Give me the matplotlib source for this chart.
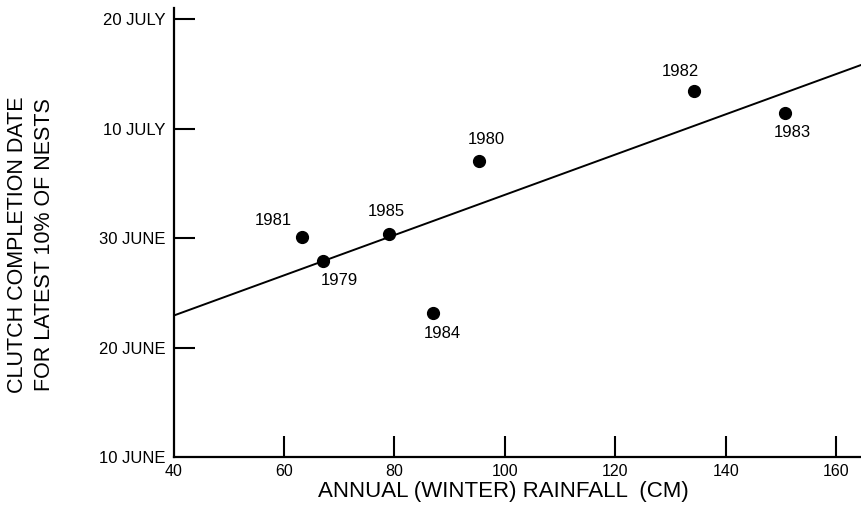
import matplotlib
matplotlib.use("Agg")
import matplotlib.pyplot as plt

plt.rcParams['font.family'] = ['Liberation Sans', 'DejaVu Sans']

# rainfall (cm) and clutch date (days after 31 May)
years = ['1981', '1979', '1985', '1984', '1980', '1982', '1983']
rainfall = [63.3, 67.0, 79.0, 86.9, 95.3, 134.3, 150.7]
clutch_day = [30.15, 27.93, 30.39, 23.16, 37.08, 43.44, 41.40]

# regression line end points
fit_x = [40.0, 164.5]
fit_y = [22.94, 45.8]

xticks = [40, 60, 80, 100, 120, 140, 160]
yticks = [10, 20, 30, 40, 50]
ytick_labels = ['10 JUNE', '20 JUNE', '30 JUNE', '10 JULY', '20 JULY']

# label offsets in pixels (dx, dy) for each year
label_offsets = {
    '1981': (-29, 16), '1979': (17, -20), '1985': (-3, 22),
    '1984': (10, -20), '1980': (7, 21), '1982': (-14, 19),
    '1983': (7, -19),
}

fig = plt.figure(figsize=(8.62, 5.14), dpi=100)
ax = fig.add_axes([0.2014, 0.110, 0.7975, 0.8745])

ax.plot(fit_x, fit_y, color='black', lw=1.4, zorder=2)
ax.plot(rainfall, clutch_day, 'o', color='black', ms=8.5, zorder=3)

for yr, x, y in zip(years, rainfall, clutch_day):
    dx, dy = label_offsets[yr]
    ax.annotate(yr, (x, y), xytext=(dx, dy), textcoords='offset pixels',
                ha='center', va='center', fontsize=12)

ax.set_xlim(40, 164.5)
ax.set_ylim(10, 51)
ax.set_xticks(xticks)
ax.set_yticks(yticks)
ax.set_yticklabels(ytick_labels)
ax.tick_params(axis='both', direction='in', length=15, width=1.5,
               colors='black')
ax.tick_params(axis='y', pad=6, labelsize=12)
ax.tick_params(axis='x', pad=5, labelsize=11.5)
ax.xaxis.get_major_ticks()[0].tick1line.set_visible(False)
ax.yaxis.get_major_ticks()[0].tick1line.set_visible(False)

for s in ['top', 'right']:
    ax.spines[s].set_visible(False)
for s in ['left', 'bottom']:
    ax.spines[s].set_linewidth(1.6)

fig.text(503 / 862, 1 - 491 / 514, 'ANNUAL (WINTER) RAINFALL  (CM)',
         ha='center', va='center', fontsize=16)
fig.text(31 / 862, 1 - 245 / 514,
         'CLUTCH COMPLETION DATE\nFOR LATEST 10% OF NESTS',
         ha='center', va='center', rotation=90, fontsize=15.5,
         linespacing=1.35)

fig.savefig('out.png', dpi=100)
